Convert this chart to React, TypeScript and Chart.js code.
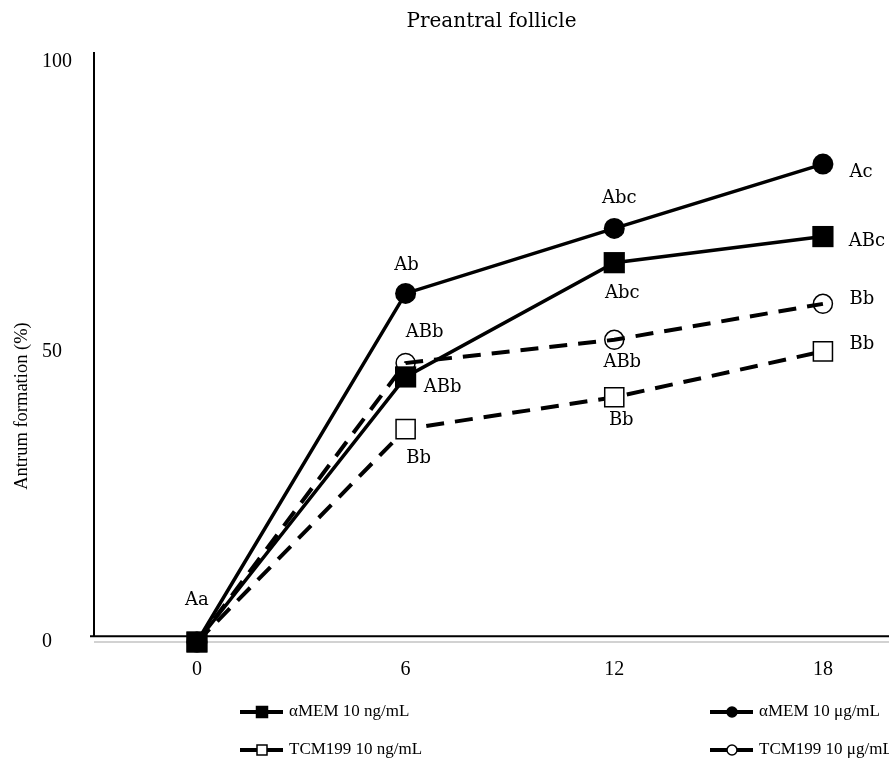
import React, { useEffect, useRef } from 'react';
import { Chart, registerables } from 'chart.js';

Chart.register(...registerables);

// ---------- data ----------
const chartTitle = 'Preantral follicle';
const yAxisTitle = 'Antrum formation (%)';
const days = [0, 6, 12, 18];
const xTicks = [0, 6, 12, 18];
const yTicks = [0, 50, 100];
const seriesNames = ['αMEM 10 ng/mL', 'αMEM 10 μg/mL', 'TCM199 10 ng/mL', 'TCM199 10 μg/mL'];
const amemNg = [0, 45.7, 65.4, 69.9];
const amemUg = [0, 60.1, 71.3, 82.4];
const tcmNg = [0, 36.7, 42.2, 50.1];
const tcmUg = [0, 48.1, 52.1, 58.3];
const amemNgLetters = ['', 'ABb', 'Abc', 'ABc'];
const amemUgLetters = ['Aa', 'Ab', 'Abc', 'Ac'];
const tcmNgLetters = ['', 'Bb', 'Bb', 'Bb'];
const tcmUgLetters = ['', 'ABb', 'ABb', 'Bb'];

// ---------- styles ----------
const SERIF = '"DejaVu Serif", serif';
const TIMES = '"Liberation Serif", "Times New Roman", serif';
// label offsets in px relative to the point (style only)
const letterOffsets = [
  [null, [37, 10], [8, 31], [44, 5]],
  [[0, -42], [1, -28], [5, -30], [38, 8]],
  [null, [13, 29], [7, 23], [39, -7]],
  [null, [19, -31], [8, 23], [39, -5]],
];
const letters = [amemNgLetters, amemUgLetters, tcmNgLetters, tcmUgLetters];
const axisLineValue = 1; // where the black x-axis rule is drawn

const toPoints = (vals: number[]) => days.map((d, i) => ({ x: d, y: vals[i] }));

const axesPlugin = {
  id: 'axesRules',
  beforeDatasetsDraw(chart: any) {
    const { ctx, chartArea, scales } = chart;
    const yLine = scales.y.getPixelForValue(axisLineValue);
    ctx.save();
    ctx.strokeStyle = '#000';
    ctx.lineWidth = 2;
    ctx.beginPath();
    ctx.moveTo(chartArea.left, chartArea.top);
    ctx.lineTo(chartArea.left, yLine);
    ctx.moveTo(chartArea.left - 4, yLine);
    ctx.lineTo(chartArea.right, yLine);
    ctx.stroke();
    ctx.restore();
  },
};

const textPlugin = {
  id: 'texts',
  afterDatasetsDraw(chart: any) {
    const { ctx, chartArea } = chart;
    ctx.save();
    ctx.fillStyle = '#000';
    ctx.textAlign = 'center';
    ctx.textBaseline = 'middle';
    // letters
    ctx.font = `18px ${SERIF}`;
    chart.data.datasets.forEach((_: any, di: number) => {
      const meta = chart.getDatasetMeta(di);
      meta.data.forEach((pt: any, i: number) => {
        const txt = letters[di][i];
        const off = letterOffsets[di][i];
        if (!txt || !off) return;
        ctx.fillText(txt, pt.x + off[0], pt.y + off[1]);
      });
    });
    // title
    ctx.font = `20px ${SERIF}`;
    ctx.fillText(chartTitle, (chartArea.left + chartArea.right) / 2, 22);
    // y axis title
    ctx.font = `18.5px ${TIMES}`;
    ctx.translate(22, 406);
    ctx.rotate(-Math.PI / 2);
    ctx.fillText(yAxisTitle, 0, 0);
    ctx.restore();
  },
};

const legendPlugin = {
  id: 'customLegend',
  afterDraw(chart: any) {
    const ctx = chart.ctx;
    const slots = [
      [240, 712],
      [710, 712],
      [240, 750],
      [710, 750],
    ];
    chart.data.datasets.forEach((ds: any, i: number) => {
      const [x0, y0] = slots[i];
      const mx = x0 + 22;
      ctx.save();
      ctx.strokeStyle = '#000';
      ctx.lineWidth = 4;
      ctx.beginPath();
      ctx.moveTo(x0, y0);
      ctx.lineTo(x0 + 43, y0);
      ctx.stroke();
      const filled = i < 2;
      const isRect = ds.pointStyle === 'rect';
      ctx.lineWidth = 1.5;
      ctx.fillStyle = filled ? '#000' : '#fff';
      ctx.beginPath();
      if (isRect) {
        const s = filled ? 11 : 10;
        ctx.rect(mx - s / 2, y0 - s / 2, s, s);
      } else {
        ctx.arc(mx, y0, 5, 0, Math.PI * 2);
      }
      ctx.fill();
      ctx.stroke();
      ctx.fillStyle = '#000';
      ctx.font = `17px ${TIMES}`;
      ctx.textAlign = 'left';
      ctx.textBaseline = 'middle';
      ctx.fillText(ds.label, x0 + 49, y0);
      ctx.restore();
    });
  },
};

export default function App() {
  const ref = useRef<HTMLCanvasElement | null>(null);
  useEffect(() => {
    if (!ref.current) return;
    const chart = new Chart(ref.current, {
      type: 'line',
      data: {
        datasets: [
          {
            label: seriesNames[0],
            data: toPoints(amemNg),
            borderColor: '#000',
            borderWidth: 3.5,
            pointStyle: 'rect',
            pointRadius: 15,
            pointBackgroundColor: '#000',
            pointBorderColor: '#000',
            pointBorderWidth: 0,
          },
          {
            label: seriesNames[1],
            data: toPoints(amemUg),
            borderColor: '#000',
            borderWidth: 3.5,
            pointStyle: 'circle',
            pointRadius: 10.5,
            pointBackgroundColor: '#000',
            pointBorderColor: '#000',
            pointBorderWidth: 0,
          },
          {
            label: seriesNames[2],
            data: toPoints(tcmNg),
            borderColor: '#000',
            borderWidth: 4,
            borderDash: [18, 11],
            pointStyle: 'rect',
            pointRadius: 13.5,
            pointBackgroundColor: '#fff',
            pointBorderColor: '#000',
            pointBorderWidth: 1.5,
          },
          {
            label: seriesNames[3],
            data: toPoints(tcmUg),
            borderColor: '#000',
            borderWidth: 4,
            borderDash: [18, 11],
            pointStyle: 'circle',
            pointRadius: 9.5,
            pointBackgroundColor: 'rgba(255,255,255,0)',
            pointBorderColor: '#000',
            pointBorderWidth: 1.5,
          },
        ],
      },
      options: {
        animation: false,
        responsive: false,
        clip: false as any,
        layout: { autoPadding: false, padding: { left: 42, right: 0, top: 52, bottom: 85 } },
        plugins: {
          legend: { display: false },
          title: { display: false },
          tooltip: { enabled: false },
        },
        scales: {
          x: {
            type: 'linear',
            min: -2.96,
            max: 19.9,
            afterBuildTicks: (s: any) => {
              s.ticks = xTicks.map((v) => ({ value: v }));
            },
            afterFit: (s: any) => {
              s.height = 30;
            },
            grid: { display: false, drawTicks: false },
            border: { display: false },
            ticks: {
              font: { family: TIMES, size: 20 },
              color: '#000',
              padding: 6,
              maxRotation: 0,
            },
          },
          y: {
            type: 'linear',
            min: -1.72,
            max: 101.72,
            afterBuildTicks: (s: any) => {
              s.ticks = yTicks.map((v) => ({ value: v }));
            },
            afterFit: (s: any) => {
              s.width = 52;
            },
            grid: {
              drawTicks: false,
              lineWidth: 2,
              color: (c: any) => (c.tick && c.tick.value === 0 ? '#d2d2d2' : 'rgba(0,0,0,0)'),
            },
            border: { display: false },
            ticks: {
              crossAlign: 'far',
              font: { family: TIMES, size: 20 },
              color: '#000',
            },
          },
        },
      },
      plugins: [axesPlugin, textPlugin, legendPlugin],
    });
    return () => chart.destroy();
  }, []);
  return (
    <div style={{ position: 'fixed', left: 0, top: 0, width: 889, height: 767, background: '#fff' }}>
      <canvas ref={ref} width={889} height={767} />
    </div>
  );
}
